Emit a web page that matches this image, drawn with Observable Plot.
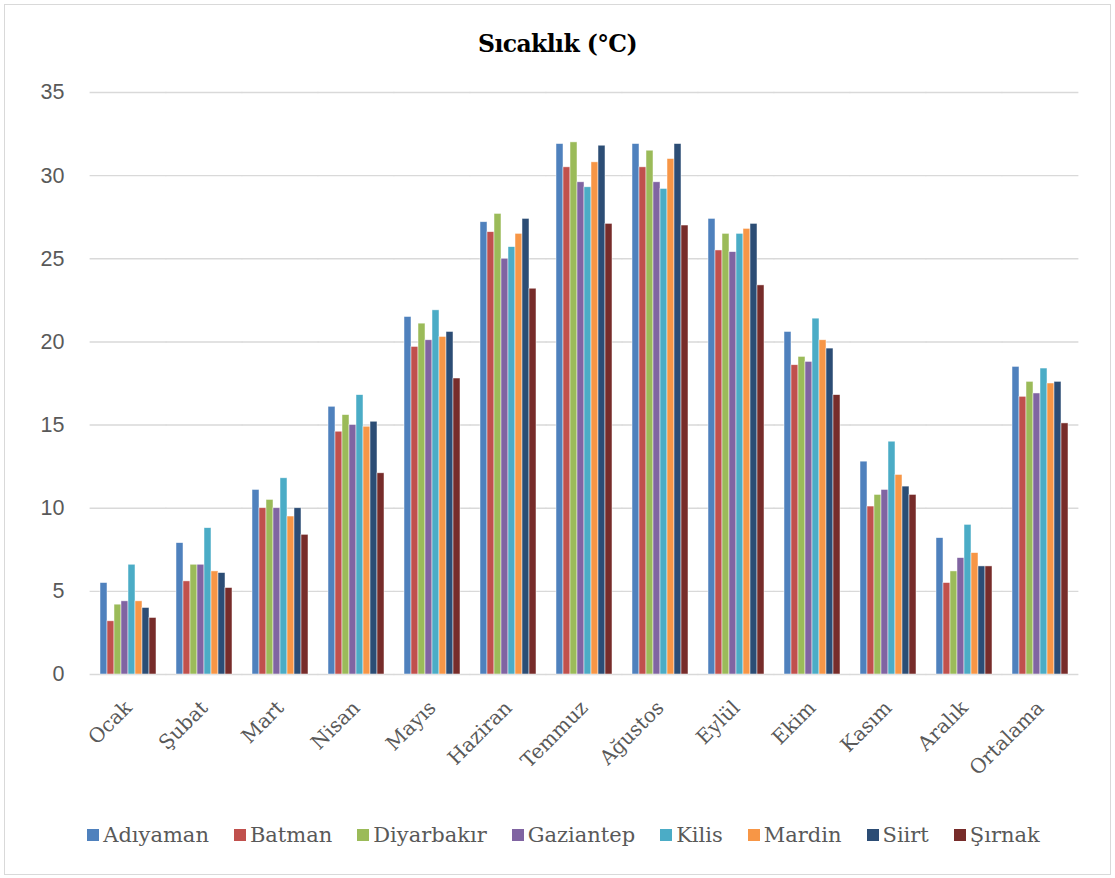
<!DOCTYPE html>
<html>
<head>
<meta charset="utf-8">
<script src="https://cdn.jsdelivr.net/npm/d3@7"></script>
<script src="https://cdn.jsdelivr.net/npm/@observablehq/plot@0.6"></script>
<style>
  body { margin: 0; background: #fff; }
  #frame { position: absolute; left: 4px; top: 4px; width: 1107px; height: 871px; border: 1px solid #d9d9d9; box-sizing: border-box; }
  #title { position: absolute; left: 0; top: 30px; width: 1115px; text-align: center; font: bold 23.5px "DejaVu Serif", serif; color: #000; letter-spacing: -0.6px; }
  #chart { position: absolute; left: 0; top: 70px; }
  #legend { position: absolute; left: 0; top: 823px; width: 1115px; display: flex; justify-content: center; gap: 25px; font: 21px "DejaVu Serif", serif; color: #595959; padding-left: 12px; box-sizing: border-box; }
  .item { display: flex; align-items: center; gap: 4px; }
  .sw { width: 12px; height: 12px; display: inline-block; }
  g[aria-label="y-axis tick label"] { font-family: "Liberation Sans", Arial, sans-serif; font-size: 21.5px; fill: #595959; }
  g[aria-label="fx-axis tick label"] { font-family: "DejaVu Serif", serif; font-size: 20px; fill: #595959; }
</style>
</head>
<body>
<div id="frame"></div>
<div id="title">Sıcaklık (°C)</div>
<div id="chart"></div>
<div id="legend"></div>
<script>
const months = ["Ocak", "Şubat", "Mart", "Nisan", "Mayıs", "Haziran", "Temmuz", "Ağustos", "Eylül", "Ekim", "Kasım", "Aralık", "Ortalama"];
const cities = ["Adıyaman", "Batman", "Diyarbakır", "Gaziantep", "Kilis", "Mardin", "Siirt", "Şırnak"];
const colors = ["#4F81BD", "#C0504D", "#9BBB59", "#8064A2", "#4BACC6", "#F79646", "#2C4D75", "#772C2A"];
const yTicks = [0, 5, 10, 15, 20, 25, 30, 35];

const adiyaman   = [5.5, 7.9, 11.1, 16.1, 21.5, 27.2, 31.9, 31.9, 27.4, 20.6, 12.8, 8.2, 18.5];
const batman     = [3.2, 5.6, 10.0, 14.6, 19.7, 26.6, 30.5, 30.5, 25.5, 18.6, 10.1, 5.5, 16.7];
const diyarbakir = [4.2, 6.6, 10.5, 15.6, 21.1, 27.7, 32.0, 31.5, 26.5, 19.1, 10.8, 6.2, 17.6];
const gaziantep  = [4.4, 6.6, 10.0, 15.0, 20.1, 25.0, 29.6, 29.6, 25.4, 18.8, 11.1, 7.0, 16.9];
const kilis      = [6.6, 8.8, 11.8, 16.8, 21.9, 25.7, 29.3, 29.2, 26.5, 21.4, 14.0, 9.0, 18.4];
const mardin     = [4.4, 6.2, 9.5, 14.9, 20.3, 26.5, 30.8, 31.0, 26.8, 20.1, 12.0, 7.3, 17.5];
const siirt      = [4.0, 6.1, 10.0, 15.2, 20.6, 27.4, 31.8, 31.9, 27.1, 19.6, 11.3, 6.5, 17.6];
const sirnak     = [3.4, 5.2, 8.4, 12.1, 17.8, 23.2, 27.1, 27.0, 23.4, 16.8, 10.8, 6.5, 15.1];

const series = [adiyaman, batman, diyarbakir, gaziantep, kilis, mardin, siirt, sirnak];
const data = [];
months.forEach((m, i) => {
  cities.forEach((c, j) => data.push({month: m, city: c, value: series[j][i]}));
});

const chart = Plot.plot({
  width: 1115,
  height: 730,
  marginLeft: 85,
  marginRight: 32,
  marginTop: 22,
  marginBottom: 126,
  fx: {domain: months, paddingInner: 0.19, paddingOuter: 0.095, label: null, axis: "bottom", tickRotate: -45, tickSize: 0, tickPadding: 30},
  x: {domain: cities, axis: null, padding: 0},
  y: {domain: [0, 35], ticks: yTicks, tickSize: 0, tickPadding: 33, label: null},
  color: {domain: cities, range: colors},
  marks: [
    Plot.ruleY(yTicks, {stroke: "#d9d9d9", strokeWidth: 1.4, insetLeft: -7.4, insetRight: -7.4}),
    Plot.barY(data, {fx: "month", x: "city", y: "value", fill: "city", stroke: "#ffffff", strokeOpacity: 0.7, strokeWidth: 0.7})
  ]
});
document.getElementById("chart").appendChild(chart);

const legend = document.getElementById("legend");
cities.forEach((c, j) => {
  const it = document.createElement("div");
  it.className = "item";
  const sw = document.createElement("span");
  sw.className = "sw";
  sw.style.background = colors[j];
  const tx = document.createElement("span");
  tx.textContent = c;
  it.appendChild(sw);
  it.appendChild(tx);
  legend.appendChild(it);
});
</script>
</body>
</html>
